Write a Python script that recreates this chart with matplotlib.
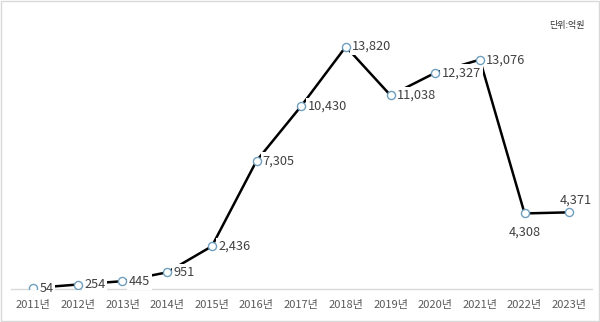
import matplotlib.pyplot as plt
import matplotlib

matplotlib.rcParams["font.family"] = ["Noto Sans CJK KR", "DejaVu Sans"]

years = ["2011년", "2012년", "2013년", "2014년", "2015년", "2016년", "2017년",
         "2018년", "2019년", "2020년", "2021년", "2022년", "2023년"]
values = [54, 254, 445, 951, 2436, 7305, 10430, 13820, 11038, 12327, 13076, 4308, 4371]
# 라벨 위치: 대부분 오른쪽, 2022년은 아래, 2023년은 오른쪽 위
label_pos = ["right"] * 11 + ["below", "above"]

fig = plt.figure(figsize=(6.0, 3.22), dpi=100)
ax = fig.add_axes([0.018, 0.1025, 0.968, 0.817])

x = list(range(len(years)))
ax.plot(x, values, color="black", linewidth=1.8, zorder=2)
ax.scatter(x, values, s=34, facecolor="white", edgecolor="#6f9fbf", linewidth=1.0, zorder=4)

for xi, v, pos in zip(x, values, label_pos):
    bbox = dict(boxstyle="square,pad=0.15", facecolor="white", edgecolor="none")
    if pos == "below":
        ax.annotate(f"{v:,}", (xi, v), xytext=(0, -13.5), textcoords="offset points",
                    ha="center", va="center", fontsize=9.2, color="#404040", bbox=bbox, zorder=3)
    elif pos == "above":
        ax.annotate(f"{v:,}", (xi, v), xytext=(5, 9), textcoords="offset points",
                    ha="center", va="center", fontsize=9.2, color="#404040", bbox=bbox, zorder=3)
    else:
        ax.annotate(f"{v:,}", (xi, v), xytext=(4.5, 0), textcoords="offset points",
                    ha="left", va="center", fontsize=9.2, color="#404040", bbox=bbox, zorder=3)

ax.set_xlim(-0.5, len(years) - 0.5)
ax.set_ylim(0, 15000)
ax.set_xticks(x)
ax.set_xticklabels(years, fontsize=8, color="#595959")
ax.tick_params(axis="x", length=0, pad=8)
ax.set_yticks([])
for side in ["top", "right", "left"]:
    ax.spines[side].set_visible(False)
ax.spines["bottom"].set_color("#d9d9d9")
ax.spines["bottom"].set_linewidth(1.0)

fig.text(0.945, 0.922, "단위:억원", fontsize=6.5, color="#333333", ha="center", va="center")

# 외곽선
fig.patches.append(plt.Rectangle((0.001, 0.002), 0.997, 0.995, transform=fig.transFigure,
                                 fill=False, edgecolor="#d9d9d9", linewidth=1.0))

fig.savefig("out.png", dpi=100)
